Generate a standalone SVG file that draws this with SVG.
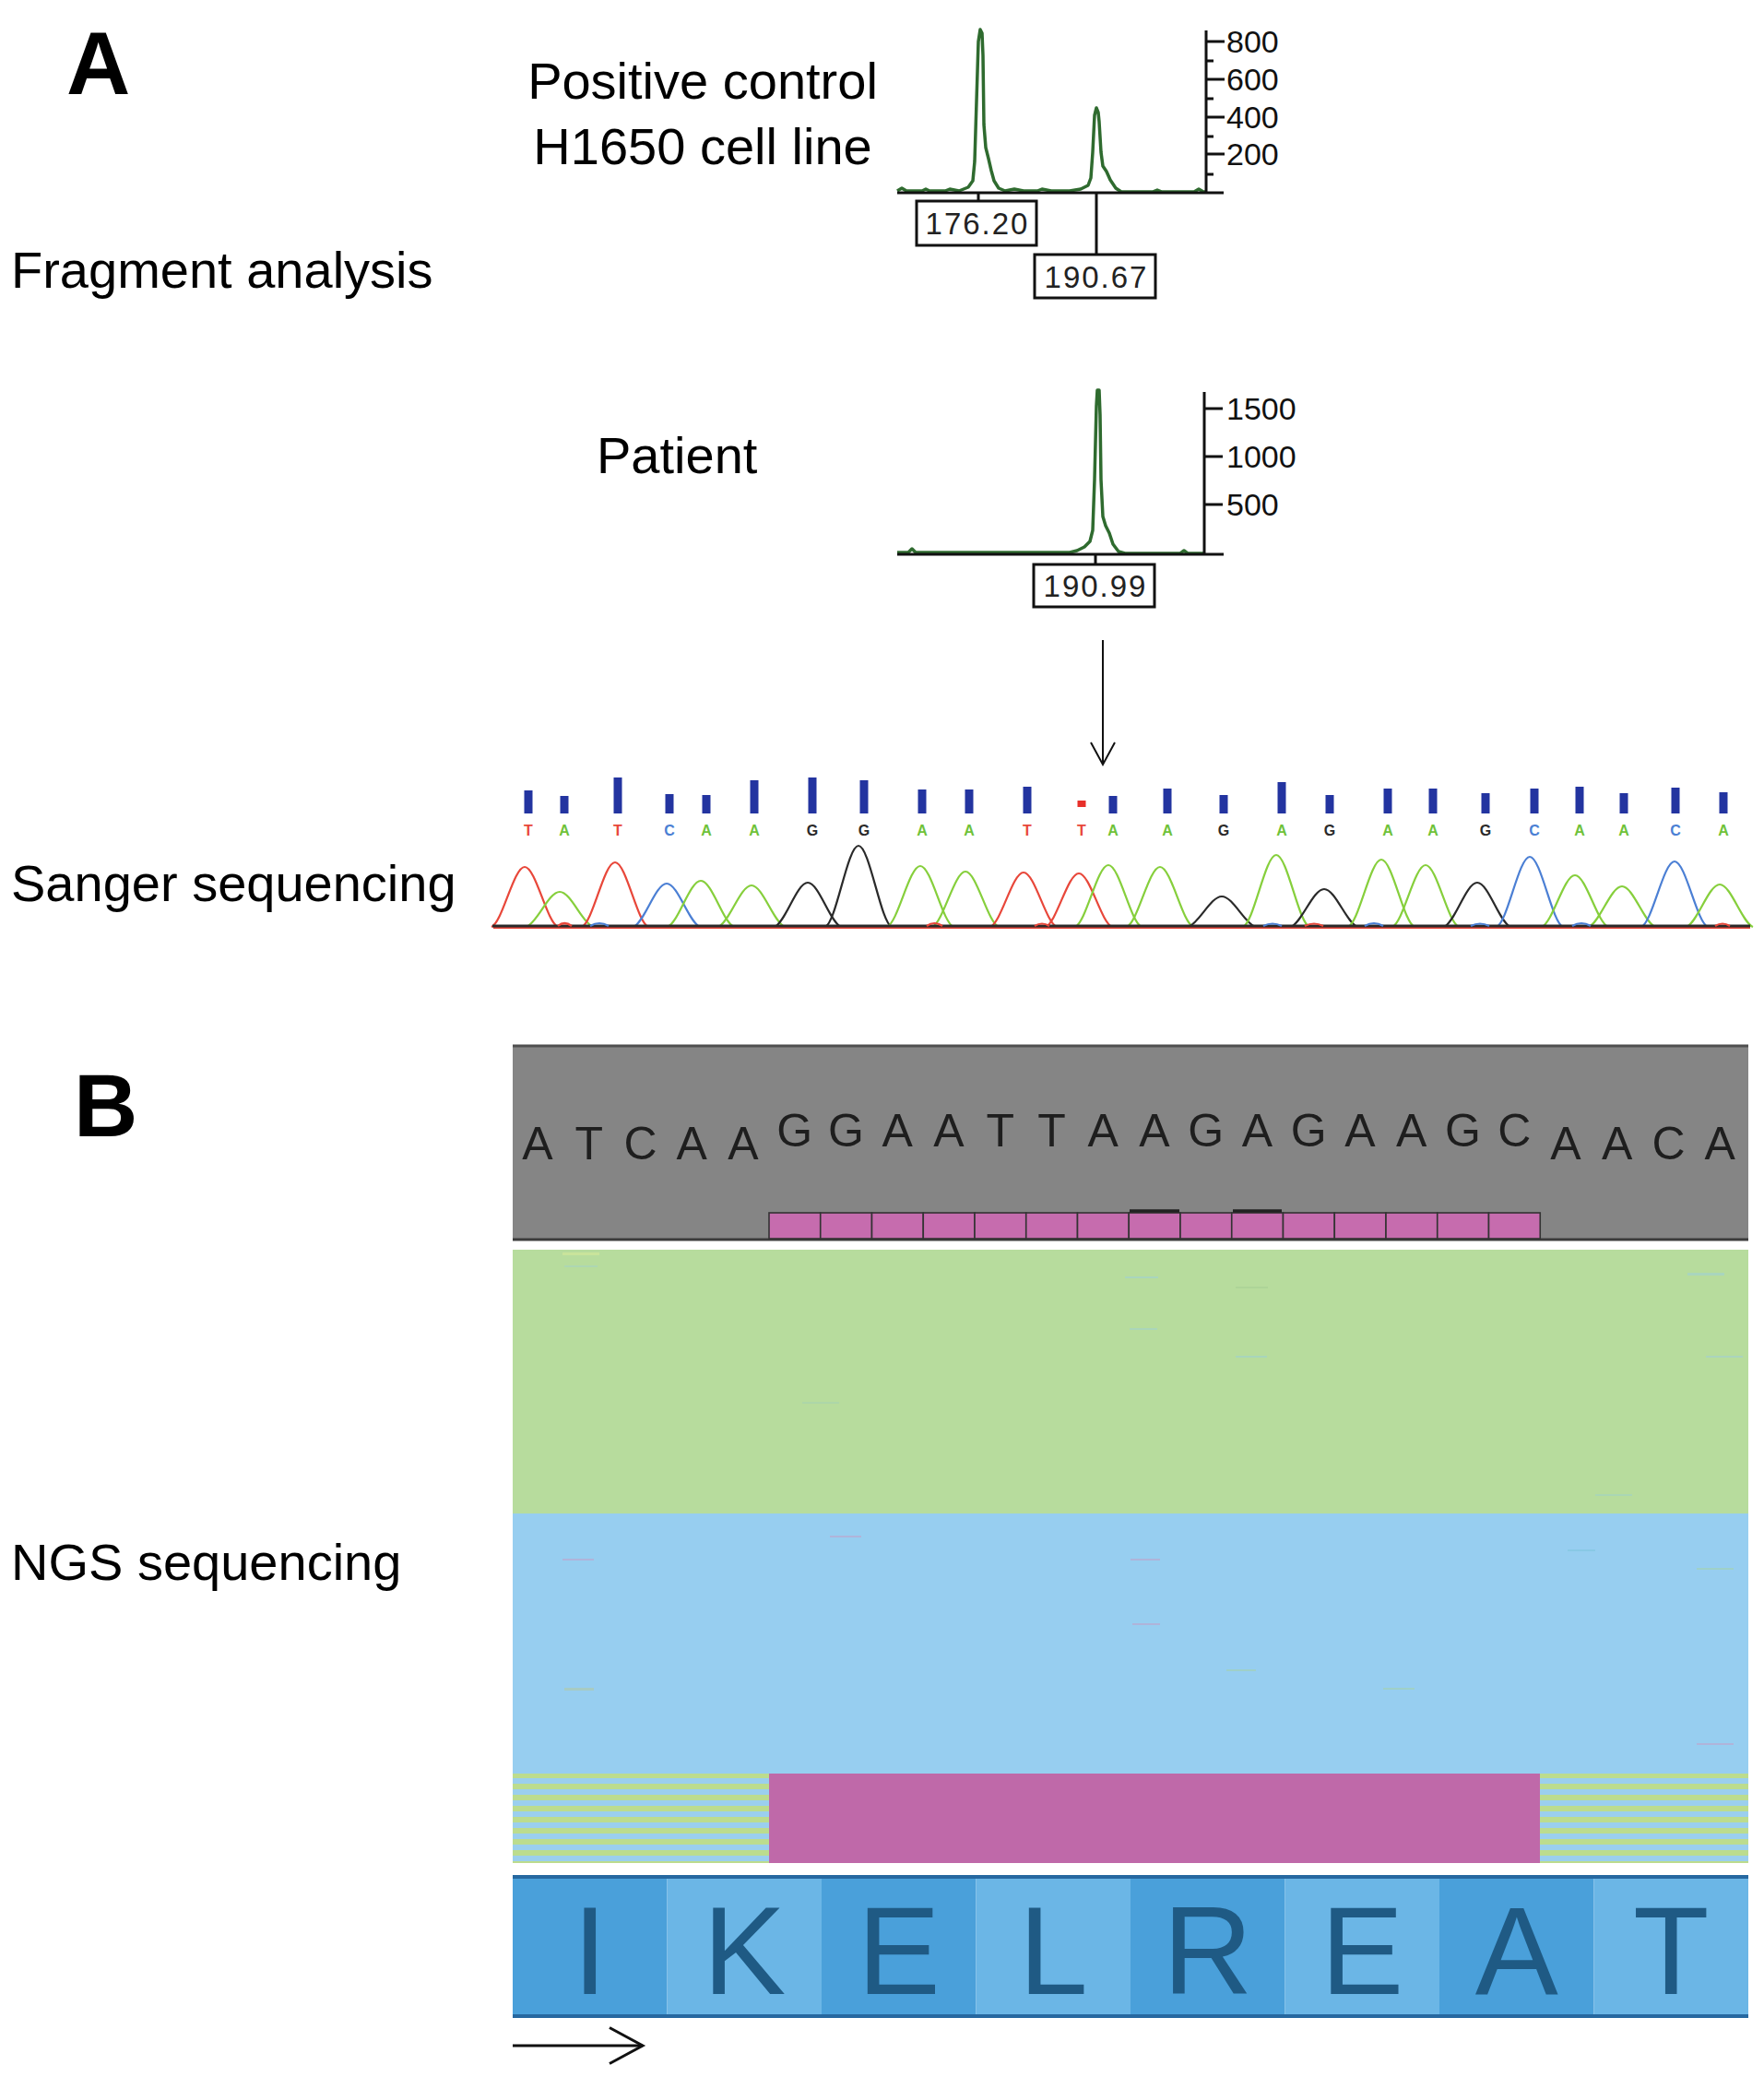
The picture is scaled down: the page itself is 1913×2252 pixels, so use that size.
<svg xmlns="http://www.w3.org/2000/svg" width="1913" height="2252" viewBox="0 0 1913 2252">
<defs>
<style>
.lbl{font-family:"Liberation Sans",Arial,sans-serif;font-size:56px;fill:#000}
.panel{font-family:"Liberation Sans",Arial,sans-serif;font-size:96px;font-weight:bold;fill:#000}
.ax{font-family:"Liberation Sans",Arial,sans-serif;font-size:34px;fill:#111}
.box{fill:#fff;stroke:#111;stroke-width:3}
.boxt{font-family:"Liberation Sans",Arial,sans-serif;font-size:33px;fill:#222;text-anchor:middle;letter-spacing:2px}
.trace{fill:none;stroke:#2f6b2f;stroke-width:3.5;stroke-linejoin:round}
.axis{stroke:#111;stroke-width:3;fill:none}
.pk{fill:none;stroke-width:2.2}
.r{stroke:#e8473a}.g{stroke:#86cf3c}.b{stroke:#4b7fd4}.k{stroke:#2a2a2a}
.bar{fill:#2334a0}
.bl{font-family:"Liberation Sans",Arial,sans-serif;font-size:16px;font-weight:bold;text-anchor:middle}
.fr{fill:#e8473a}.fg{fill:#6fc23a}.fb{fill:#4b7fd4}.fk{fill:#2a2a2a}
.nt{font-family:"Liberation Sans",Arial,sans-serif;font-size:50px;fill:#1e1e1e;text-anchor:middle}
.sq{fill:#c66cae;stroke:#333;stroke-width:1.6}
.aa{font-family:"Liberation Sans",Arial,sans-serif;font-size:135px;fill:#1f5a84;text-anchor:middle}
.dk{fill:#4aa0da}.lt{fill:#6bb6e6}
.con{stroke:#111;fill:none}
</style>
<pattern id="stripes" patternUnits="userSpaceOnUse" width="40" height="12">
<rect width="40" height="12" fill="#9bcfee"/>
<rect y="2" width="40" height="6" fill="#bcdc8e"/>
</pattern>
<marker id="chev" viewBox="-14 -8 16 16" refX="0" refY="0" markerWidth="16" markerHeight="16" orient="auto" markerUnits="strokeWidth">
<path d="M-12,-6.5 L0,0 L-12,6.5" fill="none" stroke="#111" stroke-width="1"/>
</marker>
</defs>
<rect width="1913" height="2252" fill="#fff"/>

<g id="label-A"><text class="panel" x="72" y="102">A</text></g>
<g id="label-B"><text class="panel" x="80" y="1232">B</text></g>

<g id="label-fragment"><text class="lbl" x="12" y="312">Fragment analysis</text></g>
<g id="label-positive"><text class="lbl" x="762" y="107" text-anchor="middle">Positive control</text><text class="lbl" x="762" y="178" text-anchor="middle">H1650 cell line</text></g>
<g id="label-patient"><text class="lbl" x="647" y="513">Patient</text></g>
<g id="label-sanger"><text class="lbl" x="12" y="977">Sanger sequencing</text></g>
<g id="label-ngs"><text class="lbl" x="12" y="1713">NGS sequencing</text></g>

<g id="plot-control">
<path class="trace" d="M973,207 L978,204 L983,207 L1000,207 L1004,205 L1008,207 L1025,207 L1030,205 L1040,207 L1050,203 L1055,196 L1057,175 L1059,110 L1061,45 L1063,32 L1065,36 L1066,60 L1067,135 L1069,160 L1072,172 L1075,185 L1078,196 L1083,204 L1090,207 L1100,205 L1110,207 L1125,207 L1130,205 L1140,207 L1160,207 L1172,205 L1180,201 L1183,193 L1185,165 L1187,125 L1189,117 L1191,122 L1192,132 L1194,165 L1196,180 L1200,186 L1204,195 L1210,204 L1216,208 L1250,208 L1255,206 L1260,208 L1295,208 L1300,205 L1305,208 L1308,208"/>
<path class="axis" d="M1308,33 L1308,209 M973,209 L1327,209 M1308,45 L1328,45 M1308,86 L1328,86 M1308,127 L1328,127 M1308,167 L1328,167 M1308,66 L1316,66 M1308,107 L1316,107 M1308,148 L1316,148 M1308,189 L1316,189"/>
<text class="ax" x="1330" y="57">800</text>
<text class="ax" x="1330" y="98">600</text>
<text class="ax" x="1330" y="139">400</text>
<text class="ax" x="1330" y="179">200</text>
<path class="axis" d="M1061,209 L1061,218 M1189,209 L1189,276"/>
<rect class="box" x="994" y="218" width="130" height="48"/>
<text class="boxt" x="1060" y="254">176.20</text>
<rect class="box" x="1122" y="276" width="131" height="47"/>
<text class="boxt" x="1189" y="312">190.67</text>
</g>

<g id="plot-patient">
<path class="trace" d="M973,599 L985,599 L989,595 L993,599 L1100,599 L1160,599 L1168,597 L1176,593 L1182,587 L1185,575 L1187,520 L1189,440 L1190,423 L1192,423 L1193,450 L1194,520 L1196,560 L1199,570 L1203,578 L1207,590 L1213,598 L1220,600 L1280,600 L1284,597 L1288,600 L1305,600"/>
<path class="axis" d="M1306,425 L1306,601 M973,601 L1327,601 M1306,443 L1326,443 M1306,495 L1326,495 M1306,547 L1326,547 M1188,601 L1188,612"/>
<text class="ax" x="1330" y="455">1500</text>
<text class="ax" x="1330" y="507">1000</text>
<text class="ax" x="1330" y="559">500</text>
<rect class="box" x="1121" y="612" width="131" height="46"/>
<text class="boxt" x="1188" y="647">190.99</text>
</g>

<g id="sanger-trace">
<g id="sanger-bars">
<rect class="bar" x="568.5" y="857" width="9" height="25"/>
<rect class="bar" x="607.5" y="863" width="9" height="19"/>
<rect class="bar" x="665.5" y="843" width="9" height="39"/>
<rect class="bar" x="721.5" y="861" width="9" height="21"/>
<rect class="bar" x="761.5" y="862" width="9" height="20"/>
<rect class="bar" x="813.5" y="846" width="9" height="36"/>
<rect class="bar" x="876.5" y="843" width="9" height="39"/>
<rect class="bar" x="932.5" y="846" width="9" height="36"/>
<rect class="bar" x="995.5" y="856" width="9" height="26"/>
<rect class="bar" x="1046.5" y="856" width="9" height="26"/>
<rect class="bar" x="1109.5" y="853" width="9" height="29"/>
<rect x="1168.5" y="868" width="9" height="7" fill="#e8302a"/>
<rect class="bar" x="1202.5" y="863" width="9" height="19"/>
<rect class="bar" x="1261.5" y="855" width="9" height="27"/>
<rect class="bar" x="1322.5" y="862" width="9" height="20"/>
<rect class="bar" x="1385.5" y="848" width="9" height="34"/>
<rect class="bar" x="1437.5" y="862" width="9" height="20"/>
<rect class="bar" x="1500.5" y="855" width="9" height="27"/>
<rect class="bar" x="1549.5" y="855" width="9" height="27"/>
<rect class="bar" x="1606.5" y="860" width="9" height="22"/>
<rect class="bar" x="1659.5" y="855" width="9" height="27"/>
<rect class="bar" x="1708.5" y="853" width="9" height="29"/>
<rect class="bar" x="1756.5" y="860" width="9" height="22"/>
<rect class="bar" x="1812.5" y="854" width="9" height="28"/>
<rect class="bar" x="1864.5" y="859" width="9" height="23"/>
</g>
<g id="sanger-bases">
<text class="bl fr" x="573" y="906">T</text>
<text class="bl fg" x="612" y="906">A</text>
<text class="bl fr" x="670" y="906">T</text>
<text class="bl fb" x="726" y="906">C</text>
<text class="bl fg" x="766" y="906">A</text>
<text class="bl fg" x="818" y="906">A</text>
<text class="bl fk" x="881" y="906">G</text>
<text class="bl fk" x="937" y="906">G</text>
<text class="bl fg" x="1000" y="906">A</text>
<text class="bl fg" x="1051" y="906">A</text>
<text class="bl fr" x="1114" y="906">T</text>
<text class="bl fr" x="1173" y="906">T</text>
<text class="bl fg" x="1207" y="906">A</text>
<text class="bl fg" x="1266" y="906">A</text>
<text class="bl fk" x="1327" y="906">G</text>
<text class="bl fg" x="1390" y="906">A</text>
<text class="bl fk" x="1442" y="906">G</text>
<text class="bl fg" x="1505" y="906">A</text>
<text class="bl fg" x="1554" y="906">A</text>
<text class="bl fk" x="1611" y="906">G</text>
<text class="bl fb" x="1664" y="906">C</text>
<text class="bl fg" x="1713" y="906">A</text>
<text class="bl fg" x="1761" y="906">A</text>
<text class="bl fb" x="1817" y="906">C</text>
<text class="bl fg" x="1869" y="906">A</text>
</g>
<g id="sanger-peaks">
<path class="pk r" d="M533,1005 C545,1000 557,940 569,940 C581,940 593,1000 605,1005"/>
<path class="pk g" d="M571,1005 C583,1000 595,967 607,967 C619,967 631,1000 643,1005"/>
<path class="pk r" d="M631,1005 C643,1000 655,935 667,935 C679,935 691,1000 703,1005"/>
<path class="pk b" d="M687,1005 C699,1000 711,958 723,958 C735,958 747,1000 759,1005"/>
<path class="pk g" d="M724,1005 C736,1000 748,955 760,955 C772,955 784,1000 796,1005"/>
<path class="pk g" d="M779,1005 C791,1000 803,960 815,960 C827,960 839,1000 851,1005"/>
<path class="pk k" d="M840,1005 C852,1000 864,957 876,957 C888,957 900,1000 912,1005"/>
<path class="pk k" d="M895,1005 C907,1000 919,917 931,917 C943,917 955,1000 967,1005"/>
<path class="pk g" d="M962,1005 C974,1000 986,939 998,939 C1010,939 1022,1000 1034,1005"/>
<path class="pk g" d="M1011,1005 C1023,1000 1035,945 1047,945 C1059,945 1071,1000 1083,1005"/>
<path class="pk r" d="M1074,1005 C1086,1000 1098,946 1110,946 C1122,946 1134,1000 1146,1005"/>
<path class="pk r" d="M1134,1005 C1146,1000 1158,947 1170,947 C1182,947 1194,1000 1206,1005"/>
<path class="pk g" d="M1166,1005 C1178,1000 1190,938 1202,938 C1214,938 1226,1000 1238,1005"/>
<path class="pk g" d="M1222,1005 C1234,1000 1246,940 1258,940 C1270,940 1282,1000 1294,1005"/>
<path class="pk k" d="M1289,1005 C1301,1000 1313,972 1325,972 C1337,972 1349,1000 1361,1005"/>
<path class="pk g" d="M1348,1005 C1360,1000 1372,927 1384,927 C1396,927 1408,1000 1420,1005"/>
<path class="pk k" d="M1400,1005 C1412,1000 1424,964 1436,964 C1448,964 1460,1000 1472,1005"/>
<path class="pk g" d="M1462,1005 C1474,1000 1486,932 1498,932 C1510,932 1522,1000 1534,1005"/>
<path class="pk g" d="M1510,1005 C1522,1000 1534,938 1546,938 C1558,938 1570,1000 1582,1005"/>
<path class="pk k" d="M1566,1005 C1578,1000 1590,957 1602,957 C1614,957 1626,1000 1638,1005"/>
<path class="pk b" d="M1623,1005 C1635,1000 1647,929 1659,929 C1671,929 1683,1000 1695,1005"/>
<path class="pk g" d="M1672,1005 C1684,1000 1696,949 1708,949 C1720,949 1732,1000 1744,1005"/>
<path class="pk g" d="M1723,1005 C1735,1000 1747,961 1759,961 C1771,961 1783,1000 1795,1005"/>
<path class="pk b" d="M1780,1005 C1792,1000 1804,934 1816,934 C1828,934 1840,1000 1852,1005"/>
<path class="pk g" d="M1829,1005 C1841,1000 1853,959 1865,959 C1877,959 1889,1000 1901,1005"/>
</g>
<g id="sanger-baseline">
<path d="M535,1006 L1898,1006" stroke="#e8473a" stroke-width="2" fill="none"/>
<path d="M534,1004 L1898,1004" stroke="#2a2a2a" stroke-width="3" fill="none"/>
<path class="pk b" d="M640,1004 Q650,998 660,1004 M1370,1004 Q1380,999 1390,1004 M1480,1004 Q1490,998 1500,1004 M1595,1004 Q1605,999 1615,1004 M1705,1004 Q1715,998 1725,1004"/>
<path class="pk r" d="M605,1004 Q612,998 620,1004 M1005,1004 Q1013,998 1022,1004 M1122,1004 Q1130,999 1138,1004 M1415,1004 Q1425,999 1435,1004 M1860,1004 Q1868,999 1876,1004"/>
</g>
</g>

<g id="ngs-reference">
<rect x="556" y="1133" width="1340" height="212" fill="#858585"/>
<path d="M556,1134 L1896,1134" stroke="#505050" stroke-width="3"/>
<path d="M556,1344 L1896,1344" stroke="#3c3c3c" stroke-width="3"/>
<g id="ngs-bases">
<text class="nt" x="583" y="1257">A</text>
<text class="nt" x="638.75" y="1257">T</text>
<text class="nt" x="694.5" y="1257">C</text>
<text class="nt" x="750.25" y="1257">A</text>
<text class="nt" x="806" y="1257">A</text>
<text class="nt" x="861.75" y="1243">G</text>
<text class="nt" x="917.5" y="1243">G</text>
<text class="nt" x="973.25" y="1243">A</text>
<text class="nt" x="1029" y="1243">A</text>
<text class="nt" x="1084.75" y="1243">T</text>
<text class="nt" x="1140.5" y="1243">T</text>
<text class="nt" x="1196.25" y="1243">A</text>
<text class="nt" x="1252" y="1243">A</text>
<text class="nt" x="1307.75" y="1243">G</text>
<text class="nt" x="1363.5" y="1243">A</text>
<text class="nt" x="1419.25" y="1243">G</text>
<text class="nt" x="1475" y="1243">A</text>
<text class="nt" x="1530.75" y="1243">A</text>
<text class="nt" x="1586.5" y="1243">G</text>
<text class="nt" x="1642.25" y="1243">C</text>
<text class="nt" x="1698" y="1257">A</text>
<text class="nt" x="1753.75" y="1257">A</text>
<text class="nt" x="1809.5" y="1257">C</text>
<text class="nt" x="1865.25" y="1257">A</text>
</g>
<g id="ngs-deletion-squares">
<rect class="sq" x="834" y="1315" width="55.75" height="28"/>
<rect class="sq" x="889.75" y="1315" width="55.75" height="28"/>
<rect class="sq" x="945.5" y="1315" width="55.75" height="28"/>
<rect class="sq" x="1001.25" y="1315" width="55.75" height="28"/>
<rect class="sq" x="1057" y="1315" width="55.75" height="28"/>
<rect class="sq" x="1112.75" y="1315" width="55.75" height="28"/>
<rect class="sq" x="1168.5" y="1315" width="55.75" height="28"/>
<rect class="sq" x="1224.25" y="1315" width="55.75" height="28"/>
<rect class="sq" x="1280" y="1315" width="55.75" height="28"/>
<rect class="sq" x="1335.75" y="1315" width="55.75" height="28"/>
<rect class="sq" x="1391.5" y="1315" width="55.75" height="28"/>
<rect class="sq" x="1447.25" y="1315" width="55.75" height="28"/>
<rect class="sq" x="1503" y="1315" width="55.75" height="28"/>
<rect class="sq" x="1558.75" y="1315" width="55.75" height="28"/>
<rect class="sq" x="1614.5" y="1315" width="55.75" height="28"/>
<path d="M1225,1313 L1279,1313 M1337,1313 L1390,1313" stroke="#222" stroke-width="3.5"/>
</g>
</g>

<g id="ngs-reads">
<rect x="556" y="1355" width="1340" height="286" fill="#b7dc9d"/>
<rect x="556" y="1641" width="1340" height="283" fill="#97cef0"/>
<g id="read-streaks" opacity="0.55">
<rect x="610" y="1358" width="40" height="3" fill="#d9ec9a"/>
<rect x="612" y="1372" width="36" height="2" fill="#a6d3c4"/>
<rect x="1220" y="1384" width="36" height="2" fill="#9fd0d8"/>
<rect x="1225" y="1440" width="30" height="2" fill="#a0d2d0"/>
<rect x="1340" y="1395" width="35" height="2" fill="#a5cf95"/>
<rect x="1340" y="1470" width="34" height="2" fill="#9dd0d4"/>
<rect x="1730" y="1620" width="40" height="2" fill="#a1d2c8"/>
<rect x="870" y="1520" width="40" height="2" fill="#a6d1b0"/>
<rect x="1850" y="1470" width="40" height="2" fill="#a0cfd8"/>
<rect x="1830" y="1380" width="40" height="3" fill="#9fd0d8"/>
<rect x="610" y="1690" width="34" height="2" fill="#c49fc8"/>
<rect x="612" y="1830" width="32" height="3" fill="#b4c99e"/>
<rect x="900" y="1665" width="34" height="2" fill="#c49fc8"/>
<rect x="1226" y="1690" width="32" height="2" fill="#c49fc8"/>
<rect x="1228" y="1760" width="30" height="2" fill="#c49fc8"/>
<rect x="1330" y="1810" width="32" height="2" fill="#a6d3a8"/>
<rect x="1500" y="1830" width="34" height="2" fill="#a6d3a8"/>
<rect x="1700" y="1680" width="30" height="2" fill="#7fc5dd"/>
<rect x="1840" y="1700" width="40" height="2" fill="#a6d3a8"/>
<rect x="1840" y="1890" width="40" height="2" fill="#c49fc8"/>
</g>
<rect x="556" y="1923" width="278" height="97" fill="url(#stripes)"/>
<rect x="1670" y="1923" width="226" height="97" fill="url(#stripes)"/>
<rect x="834" y="1923" width="836" height="97" fill="#bf69a9"/>
</g>

<g id="ngs-translation">
<rect class="dk" x="556" y="2035" width="167.5" height="151"/>
<rect class="lt" x="723.5" y="2035" width="167.5" height="151"/>
<rect class="dk" x="891" y="2035" width="167.5" height="151"/>
<rect class="lt" x="1058.5" y="2035" width="167.5" height="151"/>
<rect class="dk" x="1226" y="2035" width="167.5" height="151"/>
<rect class="lt" x="1393.5" y="2035" width="167.5" height="151"/>
<rect class="dk" x="1561" y="2035" width="167.5" height="151"/>
<rect class="lt" x="1728.5" y="2035" width="167.5" height="151"/>
<path d="M556,2035 L1896,2035 M556,2186 L1896,2186" stroke="#2668a0" stroke-width="4"/>
<text class="aa" x="639.75" y="2162">I</text>
<text class="aa" x="807.25" y="2162">K</text>
<text class="aa" x="974.75" y="2162">E</text>
<text class="aa" x="1142.25" y="2162">L</text>
<text class="aa" x="1309.75" y="2162">R</text>
<text class="aa" x="1477.25" y="2162">E</text>
<text class="aa" x="1644.75" y="2162">A</text>
<text class="aa" x="1812.25" y="2162">T</text>
</g>

<g id="connectors">
<path class="con" d="M1196,694 L1196,829" stroke-width="2" marker-end="url(#chev)"/>
<path class="con" d="M556,2218 L697,2218" stroke-width="3" marker-end="url(#chev)"/>
</g>
</svg>
